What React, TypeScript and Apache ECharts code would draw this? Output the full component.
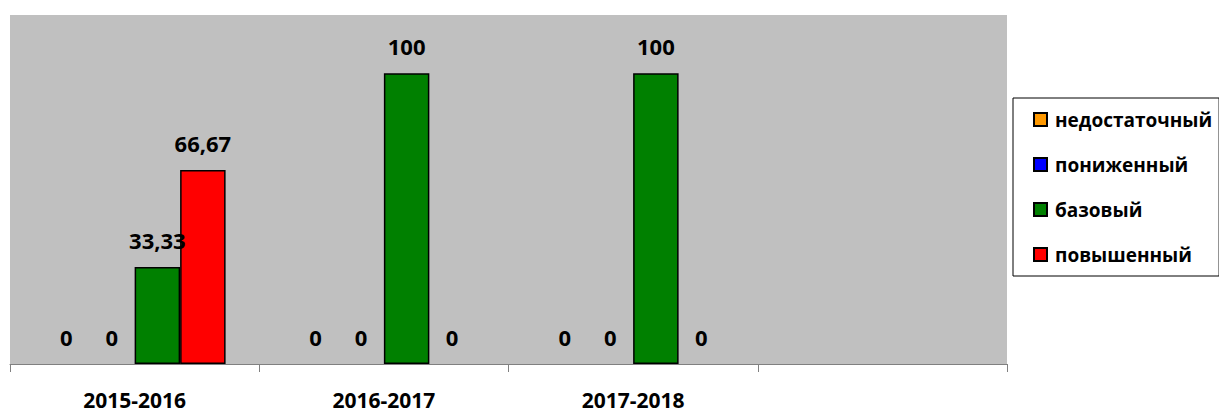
import React, { useEffect, useRef } from "react";
import * as echarts from "echarts";

const categories = ["2015-2016", "2016-2017", "2017-2018", ""];
const seriesNames = ["недостаточный", "пониженный", "базовый", "повышенный"];
const insufficient = [0, 0, 0, null];
const reduced = [0, 0, 0, null];
const basic = [33.33, 100, 100, null];
const advanced = [66.67, 0, 0, null];
const colors = ["#FF9900", "#0000FF", "#008000", "#FF0000"];

const FONT = "'Open Sans', 'Noto Sans', sans-serif";

export default function App() {
  const ref = useRef<HTMLDivElement>(null);
  useEffect(() => {
    document.body.style.margin = "0";
    const chart = echarts.init(ref.current!, null, { renderer: "svg" });
    const datasets = [insufficient, reduced, basic, advanced];
    chart.setOption({
      animation: false,
      backgroundColor: "#ffffff",
      textStyle: { fontFamily: FONT },
      grid: {
        left: 10,
        right: 212,
        top: 15,
        bottom: 50,
        show: true,
        backgroundColor: "#c0c0c0",
        borderWidth: 0,
      },
      legend: {
        orient: "vertical",
        left: 1013,
        top: 98,
        padding: [12, 7, 12, 20],
        itemGap: 26,
        itemWidth: 13,
        itemHeight: 13,
        icon: "rect",
        backgroundColor: "#ffffff",
        borderColor: "#000000",
        borderWidth: 1,
        borderRadius: 0,
        textStyle: {
          fontFamily: FONT,
          fontWeight: "bold",
          fontSize: 19,
          color: "#000000",
          padding: [0, 0, 0, 3],
        },
        data: seriesNames,
      },
      xAxis: {
        type: "category",
        data: categories,
        axisLine: { lineStyle: { color: "#808080", width: 1 } },
        axisTick: { show: true, length: 8, lineStyle: { color: "#808080" } },
        axisLabel: {
          fontFamily: FONT,
          fontWeight: "bold",
          fontSize: 21,
          lineHeight: 21,
          color: "#000000",
          margin: 25,
        },
      },
      yAxis: {
        type: "value",
        min: 0,
        max: 120,
        show: false,
        splitLine: { show: false },
      },
      series: seriesNames.map((name, i) => ({
        name,
        type: "bar",
        data: datasets[i].map((v) =>
          v === 0 ? { value: v, itemStyle: { borderWidth: 0 } } : v
        ),
        barGap: "0%",
        barCategoryGap: "27%",
        itemStyle: {
          color: colors[i],
          borderColor: "#000000",
          borderWidth: 1.5,
        },
        label: {
          show: true,
          position: "top",
          distance: 16,
          fontFamily: FONT,
          fontWeight: "bold",
          fontSize: 22,
          color: "#000000",
          formatter: (p: any) =>
            p.value === null || p.value === undefined
              ? ""
              : String(p.value).replace(".", ","),
        },
      })),
    });
    return () => chart.dispose();
  }, []);
  return (
    <div
      ref={ref}
      style={{ position: "fixed", left: 0, top: 0, width: 1219, height: 414 }}
    />
  );
}
